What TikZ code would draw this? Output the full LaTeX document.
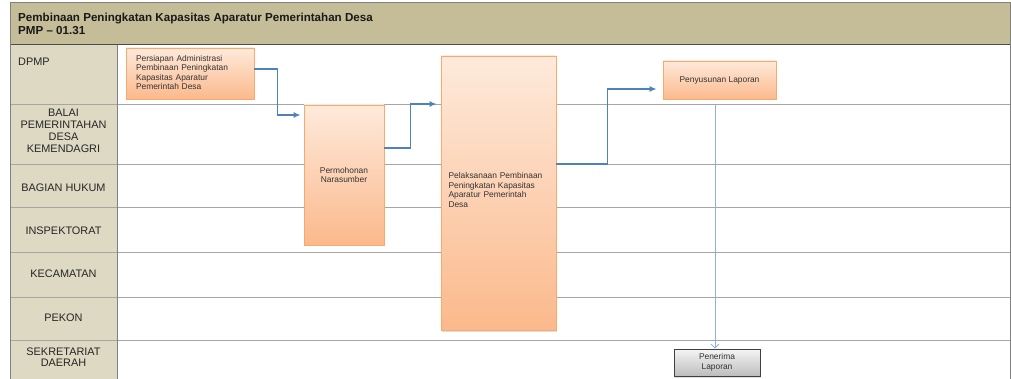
\documentclass[tikz,border=0pt]{standalone}
\usepackage{fontspec}
\setmainfont{Liberation Sans}
\usetikzlibrary{shadows,arrows.meta}
\definecolor{hdr}{HTML}{C4BD97}
\definecolor{lanecol}{HTML}{DDD9C3}
\definecolor{frm}{HTML}{808080}
\definecolor{lanel}{HTML}{A6A6A6}
\definecolor{otop}{HTML}{FEEADB}
\definecolor{obot}{HTML}{FBB98C}
\definecolor{obrd}{HTML}{F8A96E}
\definecolor{gtop}{HTML}{F5F5F5}
\definecolor{gbot}{HTML}{BDBDBD}
\definecolor{flow}{HTML}{4F81BD}
\definecolor{flowl}{HTML}{8DB3E2}
\tikzset{
  lanetxt/.style={font=\fontsize{10.9}{12}\selectfont, text=black!85, align=center, inner sep=0pt},
  orangebox/.style={draw=obrd, line width=0.8pt, top color=otop, bottom color=obot,
    drop shadow={shadow xshift=1pt, shadow yshift=-1.5pt, opacity=0.25},
    font=\fontsize{8.4}{9.5}\selectfont, text=black!80, inner sep=0pt},
  graybox/.style={draw=black!75, line width=0.8pt, top color=gtop, bottom color=gbot,
    drop shadow={shadow xshift=1pt, shadow yshift=-1.5pt, opacity=0.25},
    font=\fontsize{8.4}{10}\selectfont, text=black!80, inner sep=0pt, align=center},
  flowarrow/.style={draw=flow, line width=1.8pt, -{Latex[length=7pt,width=6pt]}},
  thinarrow/.style={draw=flowl, line width=0.8pt, -{Straight Barb[length=4pt,width=8pt]}},
  laneline/.style={draw=lanel, line width=1pt}
}
\begin{document}
\begin{tikzpicture}[x=1pt,y=-1pt]
\useasboundingbox (0,0) rectangle (1011,379);
\fill[white] (0,0) rectangle (1011,379);
% header
\fill[hdr] (10,3) rectangle (1010,45);
\fill[lanecol] (10,45) rectangle (117,379);
% lane lines
\foreach \yy in {105,165,208,253,297,340} {
  \draw[laneline] (10,\yy) -- (1010,\yy);
}
\draw[draw=frm, line width=1pt] (117,45) -- (117,379);
\draw[draw=black!70, line width=1pt] (10,45) -- (1010,45);
\draw[draw=frm, line width=1pt] (10,379) -- (10,3) -- (1010,3) -- (1010,379);
% header text
\node[anchor=west, font=\bfseries\fontsize{11.6}{13.5}\selectfont, align=left, inner sep=0pt, text=black!90] (title) at (18,24)
  {Pembinaan Peningkatan Kapasitas Aparatur Pemerintahan Desa\\PMP -- 01.31};
% lane labels
\node[lanetxt, anchor=west] (l1) at (18,62) {DPMP};
\node[lanetxt] (l2) at (63.5,131) {BALAI\\PEMERINTAHAN\\DESA\\KEMENDAGRI};
\node[lanetxt] (l3) at (63.5,188) {BAGIAN HUKUM};
\node[lanetxt] (l4) at (63.5,231) {INSPEKTORAT};
\node[lanetxt] (l5) at (63.5,274) {KECAMATAN};
\node[lanetxt, font=\fontsize{10.9}{11}\selectfont] (l6) at (63.5,318) {PEKON};
\node[lanetxt, font=\fontsize{10.9}{11}\selectfont] (l7) at (63.5,357) {SEKRETARIAT\\DAERAH};
% boxes
\node[orangebox, minimum width=128pt, minimum height=51pt, text width=108pt, align=left] (b1) at (190,73.5)
  {Persiapan Administrasi\\Pembinaan Peningkatan\\Kapasitas Aparatur\\Pemerintah Desa\\[-7pt]\mbox{}};
\node[orangebox, minimum width=80pt, minimum height=140pt, align=center] (b2) at (344,175)
  {Permohonan\\Narasumber};
\node[orangebox, minimum width=115pt, minimum height=274pt, text width=100pt, align=left] (b3) at (498.5,193)
  {Pelaksanaan Pembinaan\\Peningkatan Kapasitas\\Aparatur Pemerintah\\Desa\\[-3.5pt]\mbox{}};
\node[orangebox, minimum width=113pt, minimum height=38pt, align=center] (b4) at (719.5,80)
  {Penyusunan Laporan};
\node[graybox, minimum width=86pt, minimum height=27pt] (b5) at (717,362.5)
  {Penerima\\Laporan};
% connectors
\draw[flowarrow] ([yshift=4.5pt]b1.east) -- ++(23,0) |- ([xshift=-3pt,yshift=60pt]b2.west);
\draw[flowarrow] ([yshift=27pt]b2.east) -- ++(26,0) |- ([xshift=-4pt,yshift=89pt]b3.west);
\draw[flowarrow] ([yshift=29pt]b3.east) -- ++(51,0) |- ([xshift=-6pt,yshift=-9pt]b4.west);
\draw[thinarrow] ([xshift=-4.5pt,yshift=-6pt]b4.south) -- ([xshift=-2pt]b5.north);
\end{tikzpicture}
\end{document}
